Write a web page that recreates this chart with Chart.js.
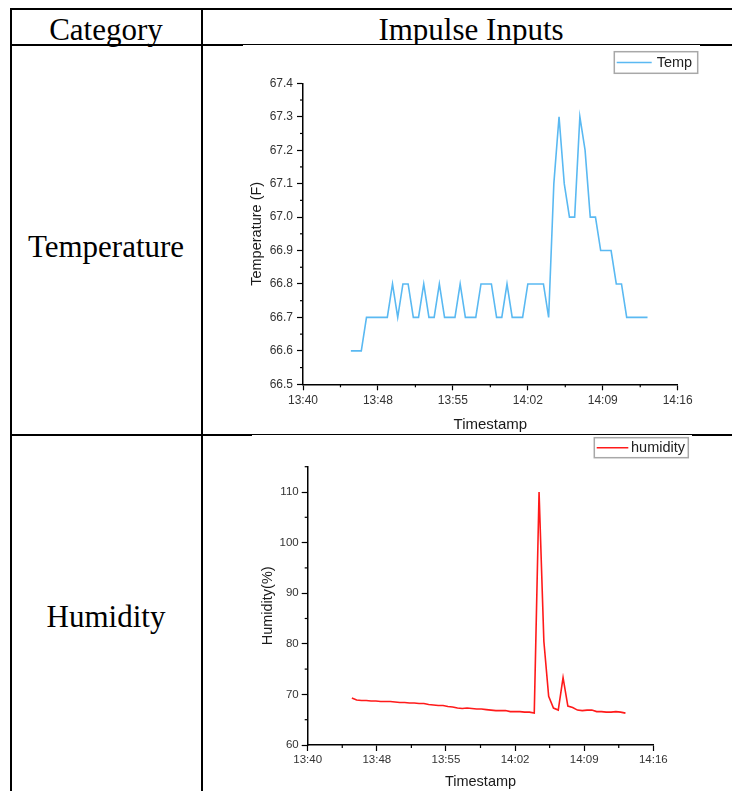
<!DOCTYPE html>
<html lang="en">
<head>
    <meta charset="UTF-8">
    <title>Impulse Inputs</title>
    <script src="https://cdn.jsdelivr.net/npm/chart.js@4.4.0/dist/chart.umd.min.js"></script>
    <style>
        body { margin: 0; background: #fff; width: 732px; height: 791px; overflow: hidden; position: relative; }
        .ln { position: absolute; background: #000; }
        .cell { position: absolute; font-family: "Liberation Serif", "Times New Roman", serif; font-size: 31px; color: #000; line-height: 1; white-space: nowrap; }
        canvas { position: absolute; background: #fff; }
    </style>
</head>
<body>
    <div class="ln" style="left:10px;top:8px;width:730px;height:2px"></div>
    <div class="ln" style="left:10px;top:8px;width:2px;height:800px"></div>
    <div class="ln" style="left:201px;top:8px;width:2px;height:800px"></div>
    <div class="ln" style="left:10px;top:44px;width:730px;height:2px"></div>
    <div class="ln" style="left:10px;top:434px;width:730px;height:2px"></div>

    <div class="cell" id="hCat" style="left:10px;width:192px;text-align:center;top:14px">Category</div>
    <div class="cell" id="hImp" style="left:202px;width:538px;text-align:center;top:14px">Impulse Inputs</div>
    <div class="cell" style="left:10px;width:192px;text-align:center;top:231px">Temperature</div>
    <div class="cell" style="left:10px;width:192px;text-align:center;top:601px">Humidity</div>

    <canvas id="tempChart" width="457" height="389" style="left:243px;top:45px"></canvas>
    <canvas id="humChart" width="440" height="356" style="left:252px;top:435px"></canvas>

    <script>
        const times = [
            "13:44:36","13:45:06","13:45:36","13:46:06","13:46:36","13:47:06","13:47:36","13:48:06",
            "13:48:36","13:49:06","13:49:36","13:50:06","13:50:36","13:51:06","13:51:36","13:52:06",
            "13:52:36","13:53:06","13:53:36","13:54:06","13:54:36","13:55:06","13:55:36","13:56:06",
            "13:56:36","13:57:06","13:57:36","13:58:06","13:58:36","13:59:06","13:59:36","14:00:06",
            "14:00:36","14:01:06","14:01:36","14:02:06","14:02:36","14:03:06","14:03:36","14:04:06",
            "14:04:36","14:05:06","14:05:36","14:06:06","14:06:36","14:07:06","14:07:36","14:08:06",
            "14:08:36","14:09:06","14:09:36","14:10:06","14:10:36","14:11:06","14:11:36","14:12:06",
            "14:12:36","14:13:06"
        ];
        const tempF = [
            66.6, 66.6, 66.6, 66.7, 66.7, 66.7, 66.7, 66.7,
            66.8, 66.7, 66.8, 66.8, 66.7, 66.7, 66.8, 66.7,
            66.7, 66.8, 66.7, 66.7, 66.7, 66.8, 66.7, 66.7,
            66.7, 66.8, 66.8, 66.8, 66.7, 66.7, 66.8, 66.7,
            66.7, 66.7, 66.8, 66.8, 66.8, 66.8, 66.7, 67.1,
            67.3, 67.1, 67.0, 67.0, 67.3, 67.2, 67.0, 67.0,
            66.9, 66.9, 66.9, 66.8, 66.8, 66.7, 66.7, 66.7,
            66.7, 66.7
        ];
        const humidity = [
            69.3, 68.9, 68.8, 68.8, 68.7, 68.7, 68.6, 68.6,
            68.6, 68.5, 68.4, 68.4, 68.3, 68.3, 68.2, 68.2,
            68.0, 67.9, 67.8, 67.8, 67.6, 67.5, 67.3, 67.2,
            67.3, 67.2, 67.1, 67.1, 67.0, 66.9, 66.8, 66.8,
            66.8, 66.6, 66.6, 66.6, 66.5, 66.5, 66.3, 110.0,
            80.5, 69.6, 67.3, 66.9, 73.3, 67.7, 67.4, 66.9,
            66.8, 66.9, 66.9, 66.6, 66.6, 66.5, 66.5, 66.6,
            66.5, 66.3
        ];

        const xTickLabels = ["13:40", "13:48", "13:55", "14:02", "14:09", "14:16"];
        const xTickMinutes = [0, 7.2, 14.4, 21.6, 28.8, 36];
        const tempTicks = [66.5, 66.6, 66.7, 66.8, 66.9, 67.0, 67.1, 67.2, 67.3, 67.4];
        const humTicks = [60, 70, 80, 90, 100, 110];

        // minutes after 13:40
        function toMin(t) {
            const p = t.split(':').map(Number);
            return p[0] * 60 + p[1] + p[2] / 60 - (13 * 60 + 40);
        }

        const SANS = "'Liberation Sans', Arial, sans-serif";

        const minorTicks = {
            id: 'minorTicks',
            afterDraw(chart) {
                const ctx = chart.ctx, a = chart.chartArea;
                ctx.save();
                ctx.strokeStyle = '#000';
                ctx.lineWidth = 1.2;
                ['x', 'y'].forEach(id => {
                    const s = chart.scales[id];
                    const t = s.ticks;
                    const step = t[1].value - t[0].value;
                    t.forEach(tk => {
                        const m = tk.value + step / 2;
                        if (m > s.max + 1e-9) return;
                        const p = s.getPixelForValue(m);
                        ctx.beginPath();
                        if (id === 'x') { ctx.moveTo(p, a.bottom); ctx.lineTo(p, a.bottom + 3); }
                        else { ctx.moveTo(a.left - 3, p); ctx.lineTo(a.left, p); }
                        ctx.stroke();
                    });
                });
                ctx.restore();
            }
        };

        const boxLegend = {
            id: 'boxLegend',
            afterDraw(chart, args, o) {
                const ctx = chart.ctx, ds = chart.data.datasets[0];
                ctx.save();
                ctx.fillStyle = '#fff';
                ctx.fillRect(o.x, o.y, o.w, o.h);
                ctx.strokeStyle = '#a8a8a8';
                ctx.lineWidth = 1.5;
                ctx.strokeRect(o.x, o.y, o.w, o.h);
                const cy = o.y + o.h / 2;
                ctx.strokeStyle = ds.borderColor;
                ctx.lineWidth = 1.5;
                ctx.beginPath();
                ctx.moveTo(o.x1, cy);
                ctx.lineTo(o.x2, cy);
                ctx.stroke();
                ctx.fillStyle = '#222';
                ctx.font = '14.5px ' + SANS;
                ctx.textBaseline = 'middle';
                ctx.fillText(ds.label, o.tx, cy + 0.5);
                ctx.restore();
            }
        };

        function makeChart(canvasId, cfg) {
            return new Chart(document.getElementById(canvasId), {
                type: 'line',
                data: {
                    datasets: [{
                        label: cfg.label,
                        data: times.map((t, i) => ({ x: toMin(t), y: cfg.values[i] })),
                        borderColor: cfg.color,
                        borderWidth: 1.6,
                        pointRadius: 0,
                        tension: 0
                    }]
                },
                options: {
                    responsive: false,
                    animation: false,
                    layout: { padding: cfg.pad },
                    plugins: {
                        legend: { display: false },
                        tooltip: { enabled: false },
                        boxLegend: cfg.legend
                    },
                    scales: {
                        x: {
                            type: 'linear',
                            min: 0,
                            max: 36,
                            afterBuildTicks: s => { s.ticks = xTickMinutes.map(v => ({ value: v })); },
                            afterFit: s => { s.height = cfg.xHeight; },
                            ticks: {
                                color: '#333',
                                font: { family: SANS, size: cfg.tickSize },
                                padding: cfg.xPad,
                                maxRotation: 0,
                                callback: (v, i) => xTickLabels[i]
                            },
                            grid: { drawOnChartArea: false, tickLength: 6, tickColor: '#000', tickWidth: 1.2 },
                            border: { color: '#000', width: 1.5 },
                            title: {
                                display: true,
                                text: 'Timestamp',
                                color: '#1a1a1a',
                                font: { family: SANS, size: cfg.xTitleSize },
                                padding: { top: cfg.xTitlePad, bottom: 0 }
                            }
                        },
                        y: {
                            min: cfg.yMin,
                            max: cfg.yMax,
                            afterBuildTicks: s => { s.ticks = cfg.yTicks.map(v => ({ value: v })); },
                            afterFit: s => { s.width = cfg.yWidth; },
                            ticks: {
                                color: '#333',
                                font: { family: SANS, size: cfg.tickSize },
                                padding: cfg.yPad,
                                callback: v => cfg.yFmt(v)
                            },
                            grid: { drawOnChartArea: false, tickLength: 6, tickColor: '#000', tickWidth: 1.2 },
                            border: { color: '#000', width: 1.5 },
                            title: {
                                display: true,
                                text: cfg.yTitle,
                                color: '#1a1a1a',
                                font: { family: SANS, size: 14.5 },
                                padding: { top: cfg.yTitlePad, bottom: 0 }
                            }
                        }
                    }
                },
                plugins: [minorTicks, boxLegend]
            });
        }

        makeChart('tempChart', {
            label: 'Temp',
            values: tempF,
            color: '#5ab9f2',
            pad: { left: 0, top: 38.3, right: 22.3, bottom: 0 },
            xHeight: 49.7,
            yWidth: 60,
            tickSize: 12,
            xPad: 3.5,
            yPad: 4,
            xTitleSize: 15,
            xTitlePad: 1.7,
            yTitlePad: 5,
            yMin: 66.5,
            yMax: 67.4,
            yTicks: tempTicks,
            yFmt: v => v.toFixed(1),
            yTitle: 'Temperature (F)',
            legend: { x: 371.3, y: 6.7, w: 83.4, h: 21.6, x1: 373.7, x2: 408.7, tx: 413.7 }
        });

        makeChart('humChart', {
            label: 'humidity',
            values: humidity,
            color: '#ff1a1a',
            pad: { left: 0, top: 31.7, right: 38.7, bottom: 0 },
            xHeight: 46,
            yWidth: 55.7,
            tickSize: 11.5,
            xPad: 2,
            yPad: 3,
            xTitleSize: 14.5,
            xTitlePad: 0.6,
            yTitlePad: 7.6,
            yMin: 60,
            yMax: 115,
            yTicks: humTicks,
            yFmt: v => String(v),
            yTitle: 'Humidity(%)',
            legend: { x: 342.3, y: 2.7, w: 94, h: 20, x1: 344.7, x2: 376.3, tx: 379 }
        });
    </script>
</body>
</html>
